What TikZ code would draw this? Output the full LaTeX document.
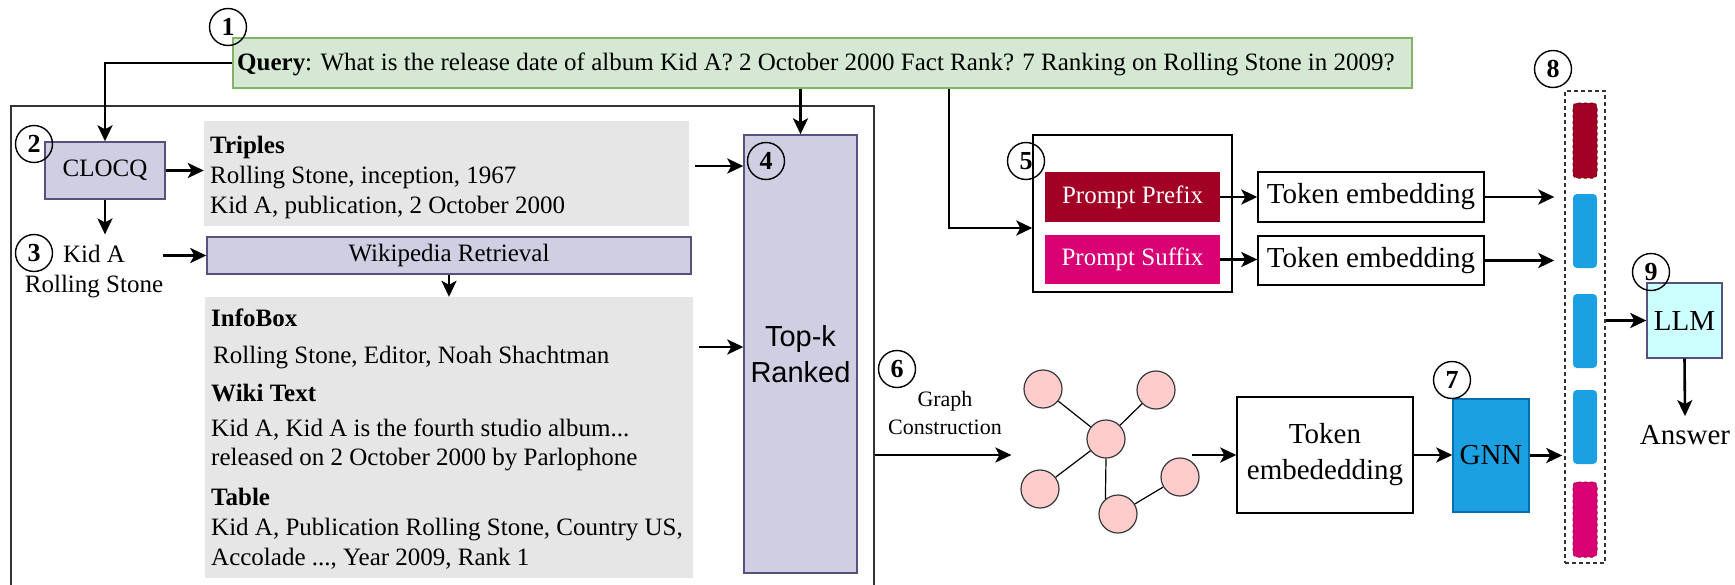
\documentclass[tikz,border=0pt]{standalone}
\usepackage{fontspec}
\setmainfont{Liberation Serif}
\setsansfont{Liberation Sans}
\usetikzlibrary{arrows.meta}
\definecolor{qfill}{HTML}{D5E8D4}
\definecolor{qline}{HTML}{82B366}
\definecolor{pfill}{HTML}{D0CEE2}
\definecolor{pline}{HTML}{56517E}
\definecolor{gray1}{HTML}{E6E6E6}
\definecolor{frame}{HTML}{333333}
\definecolor{prefix}{HTML}{A20025}
\definecolor{prefixline}{HTML}{6F0000}
\definecolor{suffix}{HTML}{D80073}
\definecolor{suffixline}{HTML}{A50040}
\definecolor{gnnfill}{HTML}{1BA1E2}
\definecolor{gnnline}{HTML}{006EAF}
\definecolor{llmfill}{HTML}{CCFFFF}
\definecolor{gfill}{HTML}{FFCCCC}
\definecolor{gline}{HTML}{36393D}
\newcommand\szA{\fontsize{25}{30}\selectfont}
\newcommand\szB{\fontsize{29}{36}\selectfont}
\newcommand\szC{\fontsize{22}{28}\selectfont}
\begin{document}
\begin{tikzpicture}[x=1pt,y=-1pt,
  >={Stealth[length=16pt,width=15pt,inset=4pt]},
  arr/.style={->,line width=2.6pt},
  box/.style={draw,inner sep=0pt,line width=1.4pt},
  wh/.style n args={2}{minimum width=#1pt,minimum height=#2pt},
  num/.style={circle,draw,line width=1.4pt,minimum size=37pt,inner sep=0pt,
    font=\bfseries\fontsize{26}{26}\selectfont},
  ln/.style={anchor=base west,inner sep=0pt,font=\szA},
  bar/.style={rounded corners=4pt,minimum width=24pt,minimum height=75pt,inner sep=0pt},
  gnode/.style={circle,draw=gline,fill=gfill,line width=1.2pt,minimum size=38pt,inner sep=0pt},
]
\useasboundingbox (0,0) rectangle (1735,584);

% query
\node[box,fill=qfill,draw=qline,wh={1179}{50}] (q) at (822.5,63) {};
\node[anchor=west,inner sep=0pt,font=\szA] (qt) at (237,64)
  {\textbf{Query}: What is the release date of album Kid A? 2 October 2000 Fact Rank? 7 Ranking on Rolling Stone in 2009?};

% retrieval frame
\node[draw=frame,line width=1.4pt,inner sep=0pt,wh={863}{494}] (big) at (442.5,353) {};

\node[box,fill=pfill,draw=pline,wh={120}{57},font=\szA] (clocq) at (105,170.5) {CLOCQ};

\node[fill=gray1,inner sep=0pt,wh={485}{105}] (trip) at (446.5,173.5) {};
\node[ln] (tr1) at (210,153) {\textbf{Triples}};
\node[ln] (tr2) at (210,183) {Rolling Stone, inception, 1967};
\node[ln] (tr3) at (210,213) {Kid A, publication, 2 October 2000};

\node[font=\szA,align=center,inner xsep=0pt,inner ysep=11pt] (ents) at (94,272) {Kid A\\Rolling Stone};

\node[box,fill=pfill,draw=pline,wh={484}{37},font=\szA] (wiki) at (449,255.5) {Wikipedia Retrieval};

\node[fill=gray1,inner sep=0pt,wh={488}{281}] (info) at (449,437.5) {};
\node[ln] (in1) at (211,326) {\textbf{InfoBox}};
\node[ln] (in2) at (213,363) {Rolling Stone, Editor, Noah Shachtman};
\node[ln] (in3) at (211,401) {\textbf{Wiki Text}};
\node[ln] (in4) at (211,436) {Kid A, Kid A is the fourth studio album...};
\node[ln] (in5) at (211,465) {released on 2 October 2000 by Parlophone};
\node[ln] (in6) at (211,505) {\textbf{Table}};
\node[ln] (in7) at (211,535) {Kid A, Publication Rolling Stone, Country US,};
\node[ln] (in8) at (211,565) {Accolade ..., Year 2009, Rank 1};

\node[box,fill=pfill,draw=pline,wh={113}{438},font=\sffamily\szB,align=center] (topk) at (800.5,354) {Top-k\\Ranked};

% prompt branch
\node[box,wh={199}{157}] (pbox) at (1132.5,213.5) {};
\node[fill=prefix,text=white,inner sep=0pt,wh={175}{50},font=\szA] (pp) at (1132.5,197) {Prompt Prefix};
\node[fill=suffix,text=white,inner sep=0pt,wh={175}{49},font=\szA] (ps) at (1132.5,259.5) {Prompt Suffix};
\node[box,wh={226}{50},font=\szB] (te1) at (1371,197) {Token embedding};
\node[box,wh={226}{49},font=\szB] (te2) at (1371,260.5) {Token embedding};

% graph branch
\node[font=\szC,align=center,inner sep=0pt] (gc) at (945,413) {Graph\\Construction};
\node[gnode] (gA) at (1043,389) {};
\node[gnode] (gB) at (1156,390) {};
\node[gnode] (gC) at (1106,439) {};
\node[gnode] (gD) at (1040,489) {};
\node[gnode] (gE) at (1118,514) {};
\node[gnode] (gF) at (1180,477) {};
\begin{scope}[line width=1.2pt]
  \draw (gA) -- (gC);
  \draw (gB) -- (gC);
  \draw (gD) -- (gC);
  \draw (gC.south) -- (gE.130);
  \draw (gE) -- (gF);
\end{scope}
\coordinate (gout) at (1192,455);
\node[box,wh={176}{116},font=\szB,align=center] (tokg) at (1325,455) {Token\\embededding};
\node[box,fill=gnnfill,draw=gnnline,wh={76}{113},font=\szB] (gnn) at (1491,455.5) {GNN};

% embedding sequence
\node[draw=frame,dash pattern=on 4pt off 3pt,line width=1.4pt,inner sep=0pt,wh={40}{472}] (dbox) at (1585,327) {};
\node[bar,fill=prefix,draw=prefixline,dashed,line width=1pt] (b1) at (1585,140.5) {};
\node[bar,fill=gnnfill,minimum height=74pt] (b2) at (1585,231) {};
\node[bar,fill=gnnfill,minimum height=74pt] (b3) at (1585,331) {};
\node[bar,fill=gnnfill,minimum height=74pt] (b4) at (1585,427) {};
\node[bar,fill=suffix,draw=suffixline,dashed,line width=1pt] (b5) at (1585,519.5) {};

\node[box,fill=llmfill,draw=pline,wh={75}{75},font=\szB] (llm) at (1684.5,320.5) {LLM};
\node[font=\szB,inner xsep=0pt,inner ysep=9pt] (ans) at (1685,435) {Answer};

% connectors
\draw[arr] (q.west) -| (clocq.north);
\draw[arr] (clocq.east) -- (clocq.east -| trip.west);
\draw[arr] (clocq.south) -- (clocq.south |- ents.north);
\draw[arr] (wiki.west -| ents.east) -- (wiki.west);
\draw[arr] (wiki.south) -- (info.north);
\draw[arr] (topk.north |- q.south) -- (topk.north);
\coordinate (t4) at ([yshift=7.5pt]trip.east);
\draw[arr,shorten <=6pt] (t4) -- (t4 -| topk.west);
\coordinate (i4) at ([yshift=90.5pt]info.east);
\draw[arr,shorten <=6pt] (i4) -- (i4 -| topk.west);
\draw[arr] ([xshift=126.5pt]q.south) |- ([yshift=-14.5pt]pbox.west);
\draw[arr] (pp.east) -- (te1.west);
\draw[arr] (ps.east) -- (ps.east -| te2.west);
\draw[arr,shorten >=10pt] (te1.east) -- (te1.east -| dbox.west);
\draw[arr,shorten >=10pt] (te2.east) -- (te2.east -| dbox.west);
\draw[arr,shorten >=12pt] (big.east |- tokg.west) -- (gA.west |- tokg.west);
\draw[arr] (gout) -- (tokg.west);
\draw[arr] (tokg.east) -- (tokg.east -| gnn.west);
\draw[arr,shorten >=2pt] (gnn.east) -- (gnn.east -| dbox.west);
\draw[arr] (dbox.east |- llm.west) -- (llm.west);
\draw[arr] (llm.south) -- (ans.north);

% step numbers
\node[num] (n1) at (228,27) {1};
\node[num] (n2) at (34,144) {2};
\node[num] (n3) at (34,253) {3};
\node[num] (n4) at (766,161) {4};
\node[num] (n5) at (1026,161) {5};
\node[num] (n6) at (897,369) {6};
\node[num] (n7) at (1452,380) {7};
\node[num] (n8) at (1553,69) {8};
\node[num] (n9) at (1651,272) {9};
\end{tikzpicture}
\end{document}
